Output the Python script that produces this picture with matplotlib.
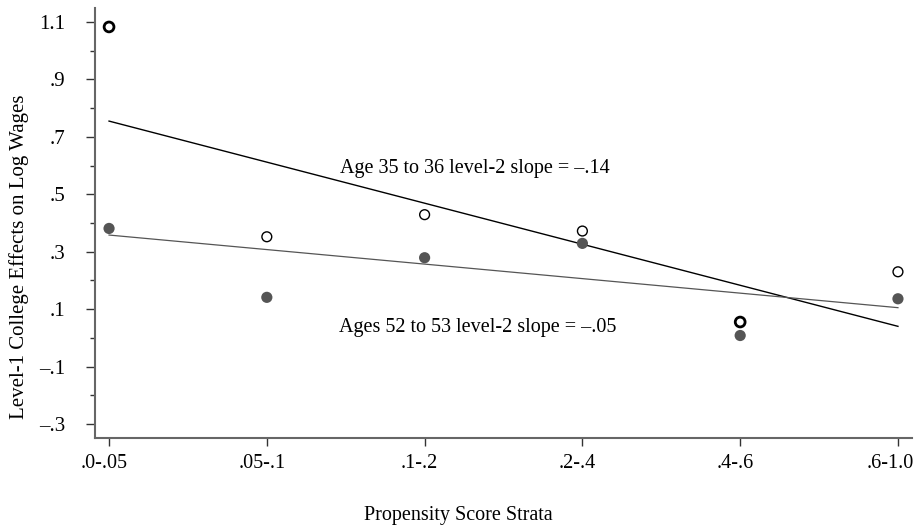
import matplotlib
matplotlib.use("Agg")
import matplotlib.pyplot as plt
import matplotlib.transforms as mtransforms
import numpy as np

plt.rcParams['font.family'] = ['Liberation Serif', 'DejaVu Serif']

strata = [".0-.05", ".05-.1", ".1-.2", ".2-.4", ".4-.6", ".6-1.0"]
age35_effects = [1.083, 0.352, 0.429, 0.372, 0.055, 0.230]
age52_effects = [0.381, 0.141, 0.279, 0.329, 0.008, 0.136]
age35_edge = [2.0, 1.0, 1.0, 1.0, 2.0, 1.0]
age35_fit = [0.755, 0.040]
age52_fit = [0.358, 0.105]
yticks_major = [-0.3, -0.1, 0.1, 0.3, 0.5, 0.7, 0.9, 1.1]
yticklabels = ["\u2013.3", "\u2013.1", ".1", ".3", ".5", ".7", ".9", "1.1"]
yticks_minor = [-0.2, 0.0, 0.2, 0.4, 0.6, 0.8, 1.0]
label35 = "Age 35 to 36 level-2 slope = \u2013.14"
label52 = "Ages 52 to 53 level-2 slope = \u2013.05"

W, H = 917, 531
fig = plt.figure(figsize=(W/100, H/100), dpi=100)
ax = fig.add_axes([95/W, 1-437.7/H, (912-95)/W, (437.7-8)/H])

x = np.arange(len(strata))
ax.plot([x[0], x[-1]], age35_fit, color='black', lw=1.0, zorder=2)
ax.plot([x[0], x[-1]], age52_fit, color='#555555', lw=0.9, zorder=2)
ax.scatter(x, age52_effects, s=65, color='#555555', edgecolors='none', zorder=3)
ax.scatter(x, age35_effects, s=50, facecolors='white', edgecolors='black',
           linewidths=age35_edge, zorder=4)

ax.text(1.464, 0.573, label35, fontsize=14.5, va='baseline', ha='left')
ax.text(1.458, 0.019, label52, fontsize=14.5, va='baseline', ha='left')

ax.set_xlim(-0.089, 5.089)
ax.set_ylim(-0.348, 1.149)
ax.set_xticks(x)
ax.set_xticklabels(strata, fontsize=14.5)
ax.set_yticks(yticks_major)
ax.set_yticklabels(yticklabels, fontsize=15)
ax.set_yticks(yticks_minor, minor=True)
for s in ['top', 'right']:
    ax.spines[s].set_visible(False)
for s in ['left', 'bottom']:
    ax.spines[s].set_color('#666666')
    ax.spines[s].set_linewidth(1.5)
ax.tick_params(axis='x', which='major', length=6, width=1, color='#333333', pad=6)
ax.tick_params(axis='y', which='major', length=6.5, width=1, color='#333333', pad=15)
ax.tick_params(axis='y', which='minor', length=3.6, width=1, color='#333333')

# slight leftward shift of x tick labels as in the reference
labels = ax.get_xticklabels()
for i, lab in enumerate(labels):
    dx = -8 if i == len(labels) - 1 else -5
    off = mtransforms.ScaledTranslation(dx/100, 0, fig.dpi_scale_trans)
    lab.set_transform(lab.get_transform() + off)

fig.text(458/W, 1-520/H, "Propensity Score Strata", fontsize=14.5,
         ha='center', va='baseline')
fig.text(19/W, 1-257/H, "Level-1 College Effects on Log Wages", fontsize=15,
         ha='center', va='center', rotation=90)

fig.savefig("out.png", dpi=100)
